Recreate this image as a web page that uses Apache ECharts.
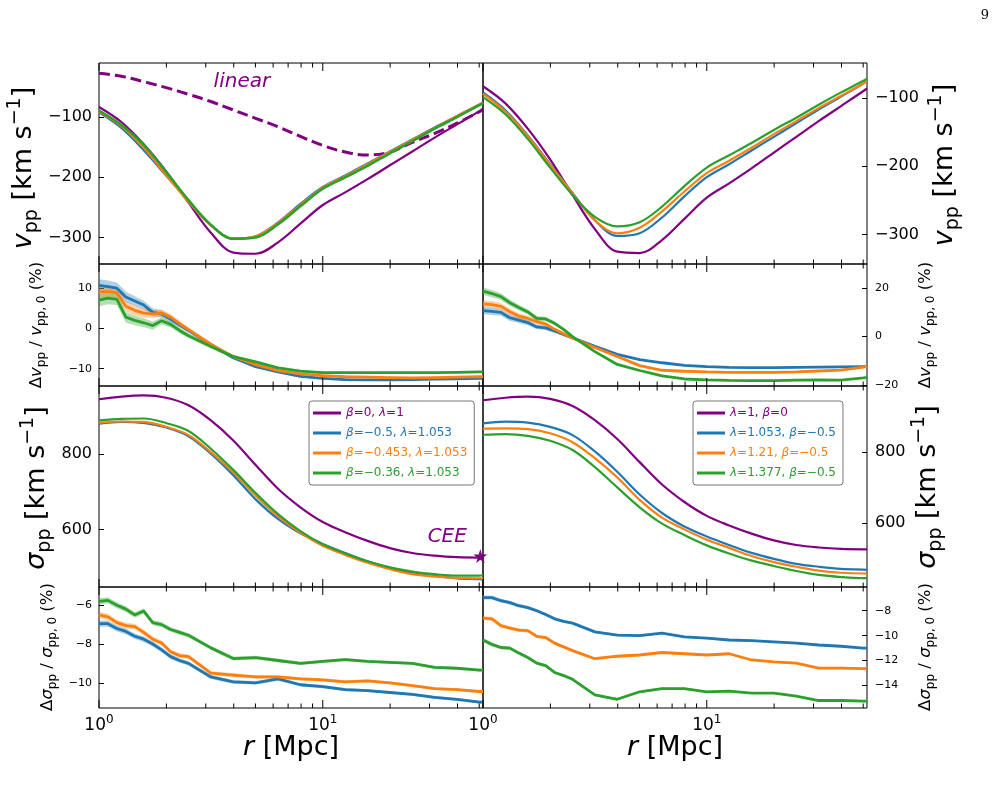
<!DOCTYPE html>
<html>
<head>
<meta charset="utf-8">
<script src="https://cdn.jsdelivr.net/npm/echarts@6/dist/echarts.min.js"></script>
<style>
html, body { margin: 0; padding: 0; background: #fff; }
#chart { width: 1005px; height: 808px; }
</style>
</head>
<body>
<div id="chart"></div>
<script>
// radii (Mpc)
const rMain = [1, 1.259, 1.585, 1.995, 2.512, 3.162, 3.981, 5.012, 6.31, 7.943, 10, 12.59, 15.85, 19.95, 25.12, 31.62, 39.81, 50.12, 52];
const rFine = [1, 1.096, 1.202, 1.318, 1.445, 1.585, 1.738, 1.905, 2.089, 2.291, 2.512, 3.162, 3.981, 5.012, 6.31, 7.943, 10, 12.59, 15.85, 19.95, 25.12, 31.62, 39.81, 50.12, 52];

// v_pp [km/s]
const vLinear = [-27, -32, -41, -51, -62, -74, -88, -102, -116, -132, -147, -158, -163, -158, -142, -127, -110, -91, -88];
const vBase = [-83, -108, -145, -190, -242, -292, -325, -327, -308, -277, -246, -225, -203, -180, -157, -134, -112, -90, -86];
const vBlue = [-92, -118, -155, -197, -239, -279, -302, -298, -275, -244, -216, -197, -177, -157, -137, -117, -98, -79, -75];
const vOrangeL = [-90.5, -115, -151, -196, -241, -280, -302, -298, -276, -246, -217, -198, -178, -158, -138, -118, -98, -79, -76];
const vGreenL = [-89, -113, -146, -191, -238, -279, -302, -300, -278, -248, -219, -200, -181, -160, -140, -119, -100, -80, -77];
const vOrangeR = [-94, -120, -156, -198, -240, -279, -298, -290, -266, -237, -210, -192, -173, -153, -134, -115, -97, -79, -75];
const vGreenR = [-99, -124, -160, -202, -242, -274, -288, -282, -259, -229, -202, -184, -166, -147, -129, -110, -92, -75, -72];

// sigma_pp [km/s]
const sBase = [945, 952, 955, 949, 929, 889, 836, 771, 708, 659, 620, 593, 570, 551, 538, 531, 527, 526, 526];
const sBlue = [880, 885, 882, 870, 847, 801, 744, 680, 628, 590, 562, 538, 516, 499, 485, 477, 471, 469, 468];
const sOrangeL = [883, 886, 885, 872, 850, 805, 751, 690, 635, 592, 557, 533, 512, 495, 482, 476, 472, 471, 471];
const sGreenL = [889, 893, 894, 882, 861, 814, 758, 697, 641, 596, 561, 537, 516, 500, 489, 482, 478, 478, 479];
const sOrangeR = [865, 866, 864, 852, 827, 782, 728, 665, 615, 582, 553, 530, 507, 490, 477, 466, 460, 458, 458];
const sGreenR = [848, 850, 845, 831, 805, 757, 700, 644, 598, 566, 537, 514, 494, 479, 465, 454, 448, 445, 445];

// relative differences (%)
const dvBlue = [10.7, 10.4, 10.0, 7.8, 6.8, 5.8, 4.0, 3.6, 2.3, 0.9, -0.5, -4.0, -7.3, -9.5, -10.8, -11.9, -12.4, -12.7, -12.8, -12.8, -12.7, -12.6, -12.5, -12.4, -12.4];
const dvOrangeL = [9.0, 9.2, 8.8, 5.5, 4.5, 3.8, 3.6, 3.8, 2.8, 1.2, -0.3, -4.0, -7.0, -9.0, -10.5, -11.3, -11.7, -12.0, -12.1, -12.2, -12.3, -12.2, -12.1, -12.0, -12.0];
const dvGreenL = [7.0, 7.5, 7.2, 2.8, 2.0, 1.4, 0.7, 1.9, 1.0, -0.5, -1.8, -4.5, -7.0, -8.3, -9.8, -10.6, -11.0, -11.0, -11.0, -11.0, -11.0, -11.0, -10.9, -10.8, -10.8];
const dvOrangeR = [13.5, 13.2, 12.5, 10.3, 8.5, 7.5, 6.2, 5.2, 3.0, 1.2, -0.6, -4.5, -8.2, -12.0, -13.9, -14.3, -14.6, -14.8, -14.8, -14.8, -14.6, -14.2, -13.8, -12.6, -12.4];
const dvGreenR = [18.8, 17.8, 16.5, 14.0, 12.0, 10.2, 7.5, 7.3, 5.5, 3.0, 0.0, -6.2, -11.5, -14.0, -16.2, -17.5, -17.9, -18.1, -18.2, -18.2, -18.0, -17.9, -18.0, -17.0, -16.8];
const dvBand = [1.5, 1.5, 1.4, 1.3, 1.2, 1.1, 1.0, 0.9, 0.8, 0.7, 0.6, 0.5, 0.4, 0.35, 0.3, 0.3, 0.25, 0.25, 0.2, 0.2, 0.2, 0.2, 0.2, 0.2, 0.2];

const dsBlue = [-6.95, -6.95, -7.2, -7.35, -7.6, -7.75, -8.0, -8.3, -8.65, -8.85, -9.0, -9.7, -9.95, -10.0, -9.8, -10.1, -10.2, -10.35, -10.4, -10.5, -10.6, -10.75, -10.85, -11.0, -11.0];
const dsOrangeL = [-6.5, -6.6, -6.9, -7.05, -7.1, -7.4, -7.75, -7.95, -8.4, -8.6, -8.65, -9.5, -9.6, -9.7, -9.7, -9.8, -9.85, -9.95, -9.9, -10.0, -10.15, -10.3, -10.35, -10.45, -10.45];
const dsGreenL = [-5.8, -5.75, -6.0, -6.2, -6.5, -6.3, -6.9, -7.0, -7.25, -7.4, -7.55, -8.2, -8.75, -8.7, -8.85, -9.0, -8.9, -8.8, -8.9, -8.95, -9.0, -9.2, -9.25, -9.35, -9.35];
const dsOrangeR = [-8.6, -8.65, -9.2, -9.4, -9.55, -9.6, -10.05, -10.15, -10.6, -10.9, -11.2, -11.85, -11.65, -11.55, -11.35, -11.45, -11.55, -11.45, -11.95, -12.1, -12.2, -12.6, -12.6, -12.65, -12.65];
const dsGreenR = [-10.35, -10.7, -10.95, -11.0, -11.4, -11.75, -12.2, -12.4, -12.95, -13.2, -13.5, -14.75, -15.1, -14.5, -14.25, -14.25, -14.5, -14.45, -14.6, -14.6, -14.85, -15.2, -15.2, -15.25, -15.25];
const dsBand = [0.16, 0.16, 0.15, 0.15, 0.14, 0.14, 0.13, 0.13, 0.12, 0.12, 0.11, 0.1, 0.1, 0.09, 0.09, 0.08, 0.08, 0.08, 0.07, 0.07, 0.07, 0.07, 0.07, 0.07, 0.07];

const ceePoint = [50.6, 530];
const linearLabelAt = [4.35, -41];
const ceeLabelAt = [36, 580];

const namesL = ['β=0, λ=1', 'β=−0.5, λ=1.053', 'β=−0.453, λ=1.053', 'β=−0.36, λ=1.053'];
const namesR = ['λ=1, β=0', 'λ=1.053, β=−0.5', 'λ=1.21, β=−0.5', 'λ=1.377, β=−0.5'];

// axis setup
const majorTicks = [1, 10];
const minorTicks = [2, 3, 4, 5, 6, 7, 8, 9, 20, 30, 40, 50];
const yRangeL = [[-344, -10], [-14.3, 16], [448, 980], [-11.3, -5.06]];
const yRangeR = [[-343, -49], [-20.4, 30], [420, 985], [-15.8, -6.1]];
const yStepL = [100, 10, 200, 2];
const yStepR = [100, 20, 200, 2];

const F = 'DejaVu Sans';
const C = { purple: '#800080', blue: '#1f77b4', orange: '#ff7f0e', green: '#2ca02c' };
const cols = [{ left: 99, width: 384 }, { left: 483, width: 384 }];
const rows = [{ top: 63, height: 201 }, { top: 264, height: 122 }, { top: 386, height: 201 }, { top: 587, height: 121 }];

const chart = echarts.init(document.getElementById('chart'));

const grids = [], xAxes = [], yAxes = [], series = [];

function fmtNum(v) {
    return v < 0 ? '\u2212' + Math.abs(v) : String(v);
}

rows.forEach((row, ri) => {
    cols.forEach((col, ci) => {
        const gi = ri * 2 + ci;
        grids.push({ left: col.left, width: col.width, top: row.top, height: row.height, show: true, borderColor: '#000', borderWidth: 1, backgroundColor: 'transparent' });
        const isBottom = ri === 3;
        xAxes.push({
            type: 'log', logBase: 10, gridIndex: gi, min: 1, max: 52,
            axisLine: { show: false }, axisTick: { show: false }, splitLine: { show: false },
            axisLabel: isBottom ? {
                show: true, margin: 6, showMaxLabel: false,
                formatter: v => {
                    const e = Math.log10(v);
                    return Math.abs(e - Math.round(e)) < 1e-6 ? '{b|10}{p|' + Math.round(e) + '}' : '';
                },
                rich: {
                    b: { fontSize: 17, fontFamily: F, color: '#000', verticalAlign: 'bottom' },
                    p: { fontSize: 12, fontFamily: F, color: '#000', verticalAlign: 'bottom', padding: [0, 0, 8, 0] }
                }
            } : { show: false }
        });
        const rng = ci === 0 ? yRangeL[ri] : yRangeR[ri];
        const step = ci === 0 ? yStepL[ri] : yStepR[ri];
        const big = ri === 0 || ri === 2;
        yAxes.push({
            type: 'value', gridIndex: gi, position: ci === 0 ? 'left' : 'right',
            min: rng[0], max: rng[1],
            splitNumber: Math.max(3, Math.round((rng[1] - rng[0]) / step)),
            minInterval: step, maxInterval: step,
            axisLine: { show: false },
            splitLine: { show: false },
            axisTick: { show: true, inside: true, length: 5, lineStyle: { color: '#000', width: 1 } },
            axisLabel: {
                show: true, margin: ci === 0 ? 7 : 8, showMinLabel: false, showMaxLabel: false,
                fontSize: big ? 16 : 11, fontFamily: F, color: '#000',
                formatter: v => Math.abs(v / step - Math.round(v / step)) < 1e-6 ? fmtNum(v) : ''
            }
        });
        // x ticks (major + minor) on top and bottom edges, inward
        const tickData = majorTicks.map(t => [t, 1]).concat(minorTicks.map(t => [t, 0]));
        series.push({
            type: 'custom', xAxisIndex: gi, yAxisIndex: gi, silent: true, z: 10, clip: false,
            data: tickData,
            encode: { x: 0 },
            renderItem: (params, api) => {
                const cs = params.coordSys;
                const x = api.coord([api.value(0), rng[0]])[0];
                const len = api.value(1) === 1 ? 8 : 4.5;
                return {
                    type: 'group',
                    children: [
                        { type: 'line', shape: { x1: x, y1: cs.y + cs.height, x2: x, y2: cs.y + cs.height - len }, style: { stroke: '#000', lineWidth: 1 } },
                        { type: 'line', shape: { x1: x, y1: cs.y, x2: x, y2: cs.y + len }, style: { stroke: '#000', lineWidth: 1 } }
                    ]
                };
            }
        });
    });
});

function line(name, xs, ys, color, gi, opt) {
    opt = opt || {};
    return {
        type: 'line', name: name, xAxisIndex: gi, yAxisIndex: gi,
        data: xs.map((x, i) => [x, ys[i]]),
        symbol: 'none', showSymbol: false, silent: true,
        smooth: opt.smooth || false,
        lineStyle: { color: color, width: opt.width || 2.2, type: opt.type || 'solid' },
        itemStyle: { color: color },
        z: opt.z || 3
    };
}

// shaded uncertainty band drawn as one polygon through the axis scales
function band(xs, ys, hw, color, gi) {
    return {
        type: 'custom', xAxisIndex: gi, yAxisIndex: gi, silent: true, z: 2, clip: true,
        data: [[xs[0], ys[0]]],
        renderItem: (params, api) => {
            const up = xs.map((x, i) => api.coord([x, ys[i] + hw[i]]));
            const lo = xs.map((x, i) => api.coord([x, ys[i] - hw[i]])).reverse();
            return {
                type: 'polygon',
                shape: { points: up.concat(lo) },
                style: { fill: color, opacity: 0.35 }
            };
        }
    };
}

const sm = 0.35;
// panel 1
series.push(line('lin', rMain, vLinear, C.purple, 0, { type: [11, 5], width: 3, smooth: sm }));
series.push(line('v0L', rMain, vBase, C.purple, 0, { smooth: sm }));
series.push(line('v1L', rMain, vBlue, C.blue, 0, { smooth: sm }));
series.push(line('v2L', rMain, vOrangeL, C.orange, 0, { smooth: sm }));
series.push(line('v3L', rMain, vGreenL, C.green, 0, { smooth: sm, width: 2.6 }));
series.push(line('v0R', rMain, vBase, C.purple, 1, { smooth: sm }));
series.push(line('v1R', rMain, vBlue, C.blue, 1, { smooth: sm }));
series.push(line('v2R', rMain, vOrangeR, C.orange, 1, { smooth: sm }));
series.push(line('v3R', rMain, vGreenR, C.green, 1, { smooth: sm }));

// panel 2
series.push(band(rFine, dvBlue, dvBand, C.blue, 2));
series.push(band(rFine, dvOrangeL, dvBand, C.orange, 2));
series.push(band(rFine, dvGreenL, dvBand, C.green, 2));
series.push(line('dv1L', rFine, dvBlue, C.blue, 2, { width: 2.8 }));
series.push(line('dv2L', rFine, dvOrangeL, C.orange, 2, { width: 2.8 }));
series.push(line('dv3L', rFine, dvGreenL, C.green, 2, { width: 2.8 }));
series.push(band(rFine, dvBlue, dvBand, C.blue, 3));
series.push(band(rFine, dvOrangeR, dvBand, C.orange, 3));
series.push(band(rFine, dvGreenR, dvBand, C.green, 3));
series.push(line('dv1R', rFine, dvBlue, C.blue, 3, { width: 2.8 }));
series.push(line('dv2R', rFine, dvOrangeR, C.orange, 3, { width: 2.8 }));
series.push(line('dv3R', rFine, dvGreenR, C.green, 3, { width: 2.8 }));

// panel 3
series.push(line(namesL[0], rMain, sBase, C.purple, 4, { smooth: sm }));
series.push(line(namesL[1], rMain, sBlue, C.blue, 4, { smooth: sm }));
series.push(line(namesL[2], rMain, sOrangeL, C.orange, 4, { smooth: sm }));
series.push(line(namesL[3], rMain, sGreenL, C.green, 4, { smooth: sm }));
series.push(line(namesR[0], rMain, sBase, C.purple, 5, { smooth: sm }));
series.push(line(namesR[1], rMain, sBlue, C.blue, 5, { smooth: sm }));
series.push(line(namesR[2], rMain, sOrangeR, C.orange, 5, { smooth: sm }));
series.push(line(namesR[3], rMain, sGreenR, C.green, 5, { smooth: sm }));

// panel 4
series.push(band(rFine, dsBlue, dsBand, C.blue, 6));
series.push(band(rFine, dsOrangeL, dsBand, C.orange, 6));
series.push(band(rFine, dsGreenL, dsBand, C.green, 6));
series.push(line('ds1L', rFine, dsBlue, C.blue, 6, { width: 2.8 }));
series.push(line('ds2L', rFine, dsOrangeL, C.orange, 6, { width: 2.8 }));
series.push(line('ds3L', rFine, dsGreenL, C.green, 6, { width: 2.8 }));
series.push(band(rFine, dsBlue, dsBand, C.blue, 7));
series.push(band(rFine, dsOrangeR, dsBand, C.orange, 7));
series.push(band(rFine, dsGreenR, dsBand, C.green, 7));
series.push(line('ds1R', rFine, dsBlue, C.blue, 7, { width: 2.8 }));
series.push(line('ds2R', rFine, dsOrangeR, C.orange, 7, { width: 2.8 }));
series.push(line('ds3R', rFine, dsGreenR, C.green, 7, { width: 2.8 }));

// annotations
function note(text, at, gi) {
    return {
        type: 'scatter', xAxisIndex: gi, yAxisIndex: gi, silent: true, z: 6,
        data: [at], symbolSize: 0.1, itemStyle: { color: 'rgba(0,0,0,0)', opacity: 1 },
        label: { show: true, position: 'inside', formatter: text, fontSize: 20, fontStyle: 'italic', fontFamily: F, color: C.purple, opacity: 1 }
    };
}
series.push(note('linear', linearLabelAt, 0));
series.push(note('CEE', ceeLabelAt, 4));
series.push({
    type: 'scatter', xAxisIndex: 4, yAxisIndex: 4, silent: true, clip: false, z: 8,
    data: [ceePoint],
    symbol: 'path://M50,0 L61,35 L98,35 L68,57 L79,91 L50,70 L21,91 L32,57 L2,35 L39,35 Z',
    symbolSize: 14, itemStyle: { color: C.purple, opacity: 1 }
});

function legend(names, left) {
    const colors = [C.purple, C.blue, C.orange, C.green];
    return {
        orient: 'vertical', left: left, top: 401,
        icon: 'rect', itemWidth: 28, itemHeight: 3, itemGap: 6,
        padding: [5, 7, 5, 4],
        backgroundColor: 'rgba(255,255,255,0.85)', borderColor: '#777', borderWidth: 1, borderRadius: 3,
        selectedMode: false,
        formatter: n => n.replace(/([βλ])/g, '{i|$1}'),
        textStyle: {
            fontSize: 12, fontFamily: F, lineHeight: 14,
            rich: { i: { fontSize: 12, fontFamily: F, fontStyle: 'italic', lineHeight: 14 } }
        },
        data: names.map((n, i) => ({ name: n, textStyle: { color: colors[i] } }))
    };
}

function zrRich(fs) {
    const s = Math.round(fs * 0.7), d = Math.round(fs * 0.19), r = Math.round(fs * 0.46);
    const base = { fontFamily: F, fill: '#000', verticalAlign: 'bottom' };
    return {
        n: Object.assign({}, base, { fontSize: fs, padding: [0, 0, d, 0] }),
        i: Object.assign({}, base, { fontSize: fs, fontStyle: 'italic', padding: [0, 0, d, 0] }),
        b: Object.assign({}, base, { fontSize: s, padding: [0, 0, 0, 0] }),
        p: Object.assign({}, base, { fontSize: s, padding: [0, 0, d + r, 0] })
    };
}

const vLabel = '{i|v}{b|pp}{n| [km s}{p|\u22121}{n|]}';
const sLabel = '{i|σ}{b|pp}{n| [km s}{p|\u22121}{n|]}';
const dvLabel = '{n|Δ}{i|v}{b|pp}{n| / }{i|v}{b|pp, 0}{n| (%)}';
const dsLabel = '{n|Δ}{i|σ}{b|pp}{n| / }{i|σ}{b|pp, 0}{n| (%)}';
const rLabel = '{i|r}{n| [Mpc]}';

function gText(text, x, y, fs, rotate) {
    return {
        type: 'text', x: x, y: y, rotation: rotate ? Math.PI / 2 : 0, silent: true,
        style: { text: text, rich: zrRich(fs), align: 'center', verticalAlign: 'middle', fill: '#000' }
    };
}

const option = {
    animation: false,
    backgroundColor: '#fff',
    grid: grids,
    xAxis: xAxes,
    yAxis: yAxes,
    legend: [legend(namesL, 309), legend(namesR, 693)],
    series: series,
    graphic: [
        gText(vLabel, 24, 168, 27, true),
        gText(vLabel, 945, 165, 27, true),
        gText(dvLabel, 38, 325, 16.5, true),
        gText(dvLabel, 927, 325, 16.5, true),
        gText(sLabel, 37, 488, 27, true),
        gText(sLabel, 928, 487, 27, true),
        gText(dsLabel, 49, 647, 16.5, true),
        gText(dsLabel, 927, 647, 16.5, true),
        gText(rLabel, 291, 750, 27, false),
        gText(rLabel, 675, 750, 27, false),
        { type: 'text', x: 985, y: 16, silent: true, style: { text: '9', fontSize: 13, fontFamily: 'DejaVu Serif', fill: '#000', align: 'center', verticalAlign: 'middle' } }
    ]
};

chart.setOption(option);
</script>
</body>
</html>
